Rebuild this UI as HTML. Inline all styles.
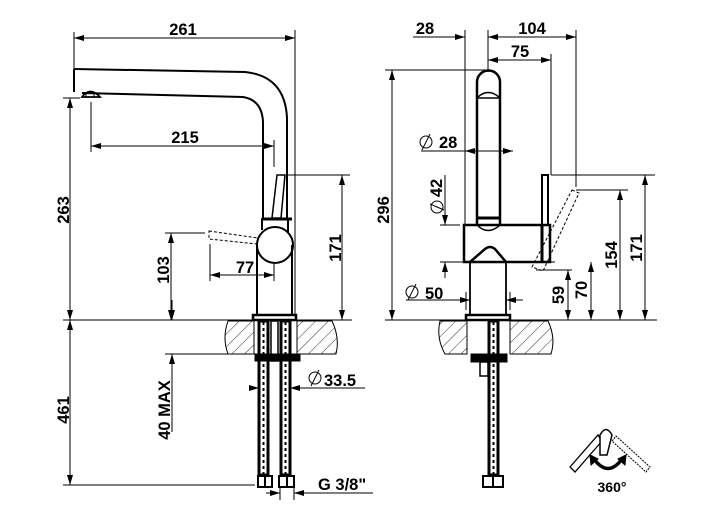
<!DOCTYPE html>
<html><head><meta charset="utf-8"><style>
html,body{margin:0;padding:0;background:#fff}
svg{display:block}
text{font-family:"Liberation Sans",sans-serif;font-weight:bold;fill:#000}
</style></head><body>
<svg width="724" height="514" viewBox="0 0 724 514" xmlns="http://www.w3.org/2000/svg">
<defs>
<marker id="a" viewBox="0 0 10 6" refX="10" refY="3" markerWidth="10" markerHeight="6" orient="auto-start-reverse" markerUnits="userSpaceOnUse"><path d="M0,0 L10,3 L0,6z" fill="#000"/></marker>
<pattern id="h" width="9" height="9" patternUnits="userSpaceOnUse" patternTransform="rotate(45)"><line x1="0" y1="0" x2="0" y2="9" stroke="#000" stroke-width="0.8"/></pattern>
</defs>
<g stroke="#000" fill="none" stroke-width="1">
<line x1="74" y1="32" x2="74" y2="70"/><line x1="295" y1="30" x2="295" y2="316"/>
<line x1="74" y1="38" x2="295" y2="38" marker-start="url(#a)" marker-end="url(#a)"/>
<path d="M74,69 L245,72 Q285,76 287,118 L287,218" stroke-width="2"/>
<path d="M74,69 L74,92 M82,93 L243,97 Q262,100 263,122 L263,218" stroke-width="2"/>
<path d="M82,97 Q90,86 100,97 Z" stroke-width="1.8"/><rect x="86" y="93" width="8" height="4"/>
<line x1="63" y1="98" x2="80" y2="98"/>
<line x1="70" y1="98" x2="70" y2="320" marker-start="url(#a)" marker-end="url(#a)"/>
<line x1="91" y1="102" x2="91" y2="152"/><line x1="274" y1="140" x2="274" y2="167"/>
<line x1="91" y1="146" x2="274" y2="146" marker-start="url(#a)" marker-end="url(#a)"/>
<path d="M277,175 L285,175 L281,218 L272,218 Z" stroke-width="1.5"/>
<line x1="286" y1="175" x2="350" y2="175"/>
<line x1="262" y1="219" x2="292" y2="219" stroke-width="3"/>
<line x1="262" y1="218" x2="262" y2="230" stroke-width="2"/><line x1="288" y1="218" x2="288" y2="232" stroke-width="2"/>
<circle cx="275" cy="245" r="18" stroke-width="2" fill="#fff"/>
<path d="M257,245 L257,316 M292,245 L292,316" stroke-width="2"/>
<rect x="253" y="315" width="43" height="5" stroke-width="2.5"/>
<path d="M209,231 L258,238 L257,244 L209,239 Z" stroke-dasharray="3,2"/>
<line x1="342" y1="175" x2="342" y2="320" marker-start="url(#a)" marker-end="url(#a)"/>
<line x1="165" y1="233" x2="205" y2="233"/>
<line x1="171" y1="233" x2="171" y2="320" marker-start="url(#a)" marker-end="url(#a)"/>
<line x1="210" y1="244" x2="210" y2="281"/><line x1="274" y1="264" x2="274" y2="281"/>
<line x1="210" y1="275" x2="274" y2="275" marker-start="url(#a)" marker-end="url(#a)"/>
<line x1="63" y1="320" x2="352" y2="320"/>
<path d="M228,321 L254,321 L254,354 L228,354 Q222,338 228,321Z" fill="url(#h)"/>
<path d="M297,321 L332,321 Q340,338 336,354 L297,354Z" fill="url(#h)"/>
<rect x="255" y="354" width="45" height="7" fill="#000"/>
<g stroke-width="3"><rect x="259" y="321" width="9" height="154"/><rect x="281" y="321" width="9" height="154"/></g>
<path d="M263.5,322 L263.5,474 M285.5,322 L285.5,474" stroke-dasharray="3,3" stroke-width="2"/>
<rect x="271" y="321" width="7" height="40" stroke-width="1.5"/>
<g stroke-width="2"><rect x="258" y="476" width="14" height="11"/><rect x="279" y="476" width="15" height="11"/>
<line x1="265" y1="476" x2="265" y2="487"/><line x1="287" y1="476" x2="287" y2="487"/></g>
<line x1="63" y1="485" x2="255" y2="485"/>
<line x1="70" y1="320" x2="70" y2="485" marker-start="url(#a)" marker-end="url(#a)"/>
<line x1="165" y1="354" x2="255" y2="354"/>
<line x1="172" y1="300" x2="172" y2="320" marker-end="url(#a)"/>
<line x1="172" y1="432" x2="172" y2="354" marker-end="url(#a)"/>
<line x1="250" y1="388" x2="259" y2="388" marker-end="url(#a)"/>
<line x1="365" y1="388" x2="290" y2="388" marker-end="url(#a)"/>
<line x1="311" y1="386" x2="319" y2="370"/><circle cx="315" cy="378" r="6"/>
<line x1="266" y1="493" x2="280" y2="493" marker-end="url(#a)"/>
<line x1="373" y1="493" x2="294" y2="493" marker-end="url(#a)"/>
<line x1="280" y1="487" x2="280" y2="500"/><line x1="294" y1="487" x2="294" y2="500"/>

<line x1="465" y1="30" x2="465" y2="225"/><line x1="488" y1="30" x2="488" y2="72"/><line x1="576" y1="30" x2="576" y2="187"/>
<line x1="413" y1="37" x2="465" y2="37" marker-end="url(#a)"/>
<line x1="488" y1="37" x2="576" y2="37" marker-start="url(#a)" marker-end="url(#a)"/>
<line x1="551" y1="54" x2="551" y2="175"/>
<line x1="488" y1="60" x2="551" y2="60" marker-start="url(#a)" marker-end="url(#a)"/>
<line x1="385" y1="70" x2="485" y2="70"/>
<line x1="392" y1="70" x2="392" y2="320" marker-start="url(#a)" marker-end="url(#a)"/>
<path d="M477,225 L477,82 A11.5,11.5 0 0 1 500,82 L500,225" stroke-width="2.5"/>
<path d="M478,97 Q488,88 499,97" stroke-width="1.5"/>
<line x1="477" y1="98" x2="500" y2="98" stroke-width="1.5"/>
<line x1="477" y1="218" x2="500" y2="218" stroke-width="3"/>
<line x1="421" y1="151" x2="465" y2="151"/>
<line x1="465" y1="151" x2="513" y2="151" marker-start="url(#a)" marker-end="url(#a)"/>
<line x1="422" y1="150" x2="430" y2="134"/><circle cx="426" cy="142" r="6"/>
<path d="M464,225 L550,225 L550,262 L464,262 Z" stroke-width="2.5"/>
<path d="M477,225 Q488,236 500,225" stroke-width="1.5"/>
<path d="M470,262 L485,249 Q490,245 495,249 L506,262" stroke-width="2.5"/>
<path d="M470,262 L470,316 M506,262 L506,316" stroke-width="1.8"/>
<rect x="466" y="315" width="44" height="5" stroke-width="2.5"/>
<line x1="542" y1="226" x2="542" y2="262" stroke-width="3"/>
<rect x="542" y="175" width="6" height="50" stroke-width="2"/>
<path d="M572,190 L579,193 L543,271 L532,267 Z" stroke-dasharray="3,2"/>
<line x1="536" y1="270" x2="572" y2="270"/>
<line x1="551" y1="175" x2="655" y2="175"/><line x1="576" y1="190" x2="628" y2="190"/>
<line x1="440" y1="225" x2="460" y2="225"/><line x1="440" y1="262" x2="555" y2="262"/>
<line x1="445" y1="175" x2="445" y2="225" marker-end="url(#a)"/>
<line x1="445" y1="278" x2="445" y2="262" marker-end="url(#a)"/>
<line x1="406" y1="300" x2="470" y2="300" marker-end="url(#a)"/>
<line x1="523" y1="300" x2="506" y2="300" marker-end="url(#a)"/>
<line x1="466" y1="292" x2="466" y2="310"/><line x1="510" y1="292" x2="510" y2="310"/>
<line x1="408" y1="300" x2="416" y2="284"/><circle cx="412" cy="292" r="6"/>
<line x1="568" y1="270" x2="568" y2="320" marker-start="url(#a)" marker-end="url(#a)"/>
<line x1="591" y1="262" x2="591" y2="320" marker-start="url(#a)" marker-end="url(#a)"/>
<line x1="620" y1="190" x2="620" y2="320" marker-start="url(#a)" marker-end="url(#a)"/>
<line x1="645" y1="175" x2="645" y2="320" marker-start="url(#a)" marker-end="url(#a)"/>
<line x1="385" y1="320" x2="657" y2="320"/>
<path d="M440,321 L467,321 L467,354 L445,354 Q436,338 440,321Z" fill="url(#h)"/>
<path d="M510,321 L548,321 Q556,338 551,354 L510,354Z" fill="url(#h)"/>
<rect x="471" y="354" width="36" height="8" fill="#000"/>
<rect x="480" y="362" width="8" height="14" stroke-width="1.5"/>
<rect x="489" y="321" width="9" height="154" stroke-width="3"/>
<line x1="493.5" y1="322" x2="493.5" y2="474" stroke-dasharray="3,3" stroke-width="2"/>
<rect x="483" y="476" width="20" height="11" stroke-width="2"/>
<line x1="493" y1="476" x2="493" y2="487" stroke-width="2"/>
<path d="M570,467 L598,435 L602,441 L575,472 Z" stroke-width="1.3"/>
<path d="M612,441 L616,436 L650,467 L646,472 Z" stroke-width="1" stroke-dasharray="2,1"/>
<path d="M600,455 L600,435 Q606,424 612,435 L607,455 Z" stroke-width="1.5" fill="#fff"/>
<path d="M594,459 Q608,478 622,459" stroke-width="3.5"/>
<path d="M590,455 L598,459 L591,465Z M626,455 L618,459 L625,465Z" fill="#000"/>
</g>
<g font-size="16.5">
<text x="183" y="35" text-anchor="middle">261</text>
<text x="185" y="143" text-anchor="middle">215</text>
<text x="245" y="273" text-anchor="middle">77</text>
<text transform="translate(69,210) rotate(-90)" text-anchor="middle">263</text>
<text transform="translate(169,270) rotate(-90)" text-anchor="middle">103</text>
<text transform="translate(341,248) rotate(-90)" text-anchor="middle">171</text>
<text transform="translate(69,410) rotate(-90)" text-anchor="middle">461</text>
<text transform="translate(170,410) rotate(-90)" text-anchor="middle">40 MAX</text>
<text x="324" y="386">33.5</text>
<text x="318" y="490">G 3/8"</text>
<text x="425" y="34" text-anchor="middle">28</text>
<text x="532" y="34" text-anchor="middle">104</text>
<text x="520" y="57" text-anchor="middle">75</text>
<text x="439" y="148">28</text>
<text x="425" y="299">50</text>
<text transform="translate(389,210) rotate(-90)" text-anchor="middle">296</text>
<text transform="translate(442,188) rotate(-90)" text-anchor="middle">42</text>
<text transform="translate(564,295) rotate(-90)" text-anchor="middle">59</text>
<text transform="translate(587,290) rotate(-90)" text-anchor="middle">70</text>
<text transform="translate(617,255) rotate(-90)" text-anchor="middle">154</text>
<text transform="translate(642,248) rotate(-90)" text-anchor="middle">171</text>
</g>
<g stroke="#000" fill="none"><circle cx="437" cy="207" r="6"/><line x1="430" y1="204" x2="444" y2="210"/></g>
<text x="612" y="492" font-size="14" text-anchor="middle">360°</text>
</svg>
</body></html>
